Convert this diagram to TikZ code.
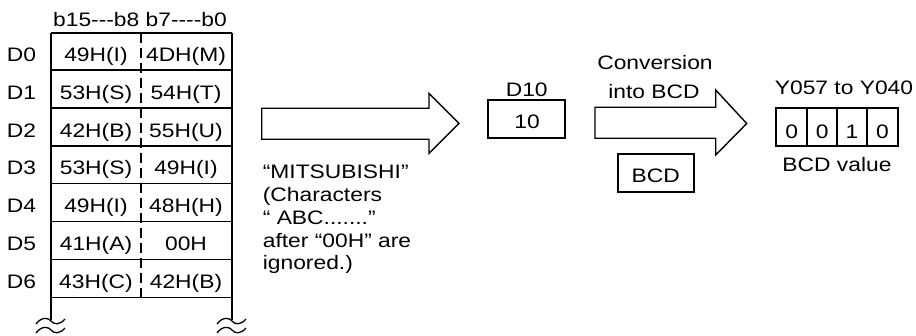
\documentclass[tikz,border=0pt]{standalone}
\usepackage{fontspec}
\setmainfont{Liberation Sans}[FakeStretch=1.17]
\newcommand{\fnt}{\fontsize{19.5}{22.7}\selectfont}
\begin{document}
\begin{tikzpicture}[x=1pt,y=-1pt,line width=1.7pt,
  every node/.style={inner sep=0pt,font=\fnt,anchor=base},
  bigarrow/.style={line width=1.4pt,line join=miter},
  wave/.style={line width=1.3pt}]
\useasboundingbox (0,0) rectangle (916,336);
% header
\node (hdr) at (140,26.7) {b15-{}-{}-b8 b7-{}-{}-{}-b0};
% table frame
\coordinate (tl) at (51,32.7);
\coordinate (tr) at (232,32.7);
\coordinate (bl) at (51,320);
\coordinate (br) at (232,320);
\draw (tl) -- (tr);
\draw (tl) -- (bl);
\draw (tr) -- (br);
\foreach \yy in {70.3,108.3,146,183.5,221.5,259.5,297.5}
  \draw (51,\yy) -- (233,\yy);
\draw[dash pattern=on 10pt off 5pt] (141,32.7) -- (141,297.5);
% rows
\foreach \i/\b/\l/\r in {0/61.7/49H(I)/4DH(M),1/99.3/53H(S)/54H(T),2/137.3/42H(B)/55H(U),
  3/175/53H(S)/49H(I),4/212.8/49H(I)/48H(H),5/250.8/41H(A)/00H,6/288.5/43H(C)/42H(B)}{
  \node (lab\i) at (21.5,\b) {D\i};
  \node (hi\i) at (96,\b) {\l};
  \node (lo\i) at (186,\b) {\r};
}
% waves
\foreach \xx in {51,232}{
  \draw[wave] (\xx-15,324) .. controls (\xx-9,316) and (\xx-2,318) .. (\xx,321)
     .. controls (\xx+3,325) and (\xx+9,325) .. (\xx+14,319);
  \draw[wave] (\xx-15,333) .. controls (\xx-9,325) and (\xx-2,327) .. (\xx,330)
     .. controls (\xx+3,334) and (\xx+9,334) .. (\xx+14,328);
}
% arrow 1
\draw[bigarrow] (261.7,108.3) -- (429,108.3) -- (429,93.3) -- (459,123.3)
  -- (429,153.3) -- (429,139.3) -- (261.7,139.3) -- cycle;
\node[align=left,anchor=north west] (note) at (262,164.5)
  {“MITSUBISHI”\\(Characters\\“ ABC.......”\\after “00H” are\\ignored.)};
% D10
\node (d10lab) at (526.7,96.7) {D10};
\draw (488.3,100) rectangle (565,138.3);
\node (d10) at (527,128.3) {10};
% arrow 2
\node (conv) at (655,70) {Conversion};
\node (conv2) at (654,98.3) {into BCD};
\draw[bigarrow] (595,107.3) -- (715.7,107.3) -- (715.7,90) -- (746.7,123.5)
  -- (715.7,155) -- (715.7,138.3) -- (595,138.3) -- cycle;
\draw (617.7,154) rectangle (694,192.3);
\node (bcd) at (655.7,182.7) {BCD};
% Y boxes
\node (ylab) at (844,94.3) {Y057 to Y040};
\draw (776,107.7) rectangle (898.3,145.7);
\foreach \xx in {807.3,837.3,866.7} \draw (\xx,107.7) -- (\xx,145.7);
\node (y3) at (791.7,138.3) {0};
\node (y2) at (822.3,138.3) {0};
\node (y1) at (852,138.3) {1};
\node (y0) at (882.5,138.3) {0};
\node (bval) at (837,171.7) {BCD value};
\end{tikzpicture}
\end{document}
